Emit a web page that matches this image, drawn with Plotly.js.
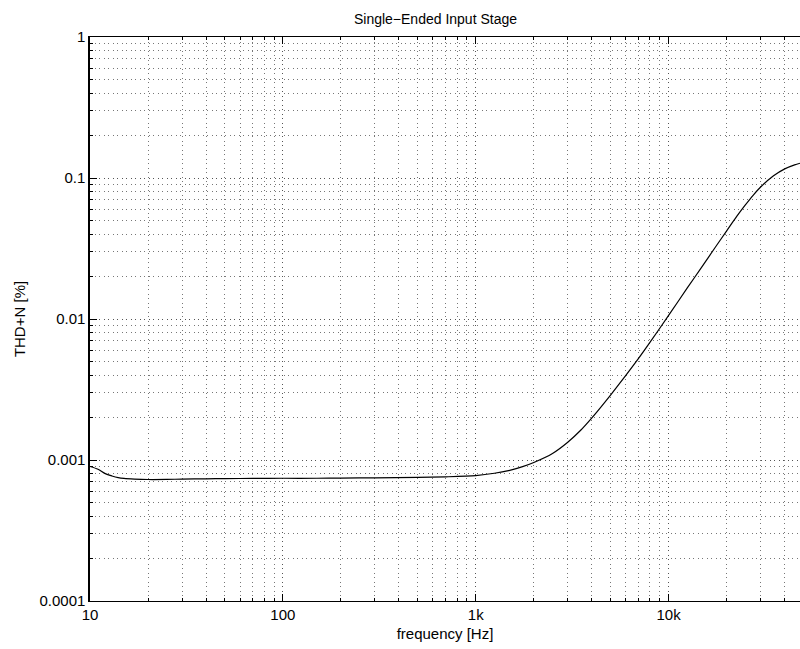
<!DOCTYPE html>
<html>
<head>
<meta charset="utf-8">
<script src="https://cdn.plot.ly/plotly-3.0.1.min.js"></script>
<style>html,body{margin:0;padding:0;background:#fff;}#chart{width:800px;height:649px;}</style>
</head>
<body>
<div id="chart"></div>
<script>
// frequency [Hz]
const freq = [10, 11, 12, 13, 14, 15, 17, 20, 25, 30, 40, 50, 70, 100, 150, 200, 300, 500, 700, 1000, 1250, 1500, 1750, 2000, 2500, 3000, 3500, 4000, 5000, 6000, 7000, 8000, 10000, 12500, 15000, 17500, 20000, 22500, 25000, 27500, 30000, 35000, 40000, 45000, 48000];
// THD+N [%]
const thdn = [0.00090, 0.00086, 0.00080, 0.00077, 0.000750, 0.000740, 0.000732, 0.000727, 0.000728, 0.000732, 0.000735, 0.000738, 0.000740, 0.000742, 0.000742, 0.000745, 0.000748, 0.000752, 0.000760, 0.000776, 0.000805, 0.000845, 0.000897, 0.000960, 0.001112, 0.001336, 0.001625, 0.00199, 0.00289, 0.00398, 0.00527, 0.00682, 0.0106, 0.0166, 0.0238, 0.0324, 0.0422, 0.0532, 0.0644, 0.0757, 0.0863, 0.1037, 0.1161, 0.124, 0.1273];

const xTickVals = [10, 100, 1000, 10000];
const xTickText = ['10', '100', '1k', '10k'];
const yTickVals = [0.0001, 0.001, 0.01, 0.1, 1];
const yTickText = ['0.0001', '0.001', '0.01', '0.1', '1'];
const xMinorVals = [20,30,40,50,60,70,80,90,200,300,400,500,600,700,800,900,2000,3000,4000,5000,6000,7000,8000,9000,20000,30000,40000];
const yMinorVals = [0.0002,0.0003,0.0004,0.0005,0.0006,0.0007,0.0008,0.0009,0.002,0.003,0.004,0.005,0.006,0.007,0.008,0.009,0.02,0.03,0.04,0.05,0.06,0.07,0.08,0.09,0.2,0.3,0.4,0.5,0.6,0.7,0.8,0.9];

const font = {family: 'Liberation Sans, Arial, Helvetica, sans-serif', size: 15, color: '#000'};
const dots = '1px,3.5px';

const trace = {
  x: freq, y: thdn, type: 'scatter', mode: 'lines',
  line: {color: '#000', width: 1.2, shape: 'spline', smoothing: 0.8},
  hoverinfo: 'x+y'
};

const layout = {
  width: 800, height: 649,
  margin: {l: 90, r: 0, t: 37, b: 48},
  paper_bgcolor: '#fff', plot_bgcolor: '#fff',
  showlegend: false,
  font: font,
  title: {
    text: 'Single\u2212Ended Input Stage',
    font: {family: font.family, size: 14, color: '#000'},
    xref: 'paper', x: 0.4866, xanchor: 'center',
    yref: 'container', y: 1 - 19/649, yanchor: 'middle'
  },
  xaxis: {
    type: 'log',
    range: [Math.log10(10), Math.log10(48000)],
    tickvals: xTickVals, ticktext: xTickText,
    ticks: 'inside', ticklen: 7, tickwidth: 1, tickcolor: '#000',
    showline: true, linecolor: '#000', linewidth: 1.3, mirror: 'ticks',
    showgrid: true, gridcolor: '#555', gridwidth: 1, griddash: dots,
    zeroline: false,
    tickfont: font,
    minor: {
      tickvals: xMinorVals,
      ticks: 'inside', ticklen: 3, tickcolor: '#000',
      showgrid: true, gridcolor: '#777', gridwidth: 1, griddash: dots
    },
    title: {text: 'frequency [Hz]', font: font, standoff: 6}
  },
  yaxis: {
    type: 'log',
    range: [-4, 0],
    tickvals: yTickVals, ticktext: yTickText,
    ticks: 'inside', ticklen: 7, tickwidth: 1, tickcolor: '#000',
    showline: true, linecolor: '#000', linewidth: 1.6, mirror: false,
    showgrid: true, gridcolor: '#555', gridwidth: 1, griddash: dots,
    zeroline: false,
    tickfont: font,
    minor: {
      tickvals: yMinorVals,
      ticks: 'inside', ticklen: 3, tickcolor: '#000',
      showgrid: true, gridcolor: '#777', gridwidth: 1, griddash: dots
    },
    title: {text: 'THD+N [%]', font: font, standoff: 10}
  }
};

Plotly.newPlot('chart', [trace], layout, {displayModeBar: false, staticPlot: true});
</script>
</body>
</html>
